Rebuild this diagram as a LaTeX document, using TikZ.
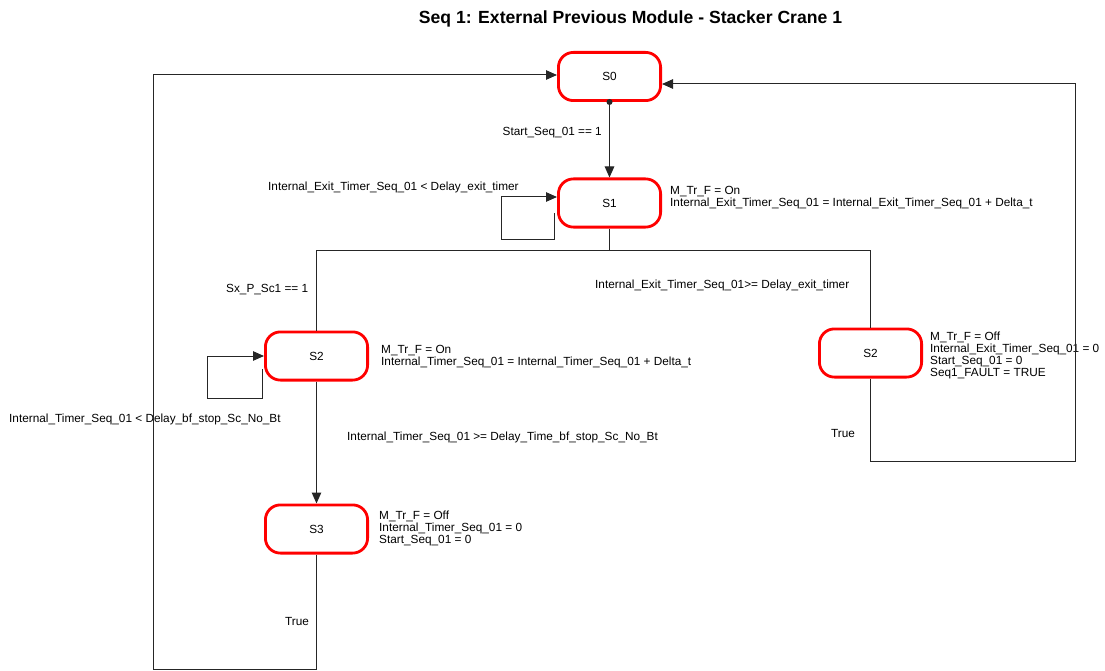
\documentclass[tikz,border=0pt]{standalone}
\usepackage{fontspec}
\setmainfont{Liberation Sans}
\usetikzlibrary{arrows.meta,calc}
\begin{document}
\begin{tikzpicture}[x=1pt,y=-1pt,
  state/.style={draw=red, line width=2.8pt, rounded corners=15pt, minimum width=102.2pt, minimum height=48.2pt, fill=white, font=\fontsize{11.8}{12}\selectfont, inner sep=0pt},
  lbl/.style={font=\fontsize{11.8}{12}\selectfont, inner sep=0pt, anchor=base west},
  act/.style={font=\fontsize{11.8}{12}\selectfont, inner sep=0pt, align=left, anchor=north west},
  conn/.style={draw=black!85, line width=1pt},
  arr/.style={conn, -{Triangle[length=11pt,width=9.5pt]}}]
\useasboundingbox (0,0) rectangle (1105,671);

\node[font=\fontsize{17.6}{20}\selectfont\bfseries, inner sep=0pt, anchor=base] (title) at (630.5,23.2) {Seq 1: External Previous Module - Stacker Crane 1};

\node[state] (s0) at (609.5,76.5) {S0};
\node[state] (s1) at (609.5,203) {S1};
\node[state] (s2a) at (316.5,356) {S2};
\node[state] (s2b) at (870.5,353) {S2};
\node[state] (s3) at (316.5,529) {S3};

% actions
\node[act] (a1) at (670,185.8) {M\_Tr\_F = On\\Internal\_Exit\_Timer\_Seq\_01 = Internal\_Exit\_Timer\_Seq\_01 + Delta\_t};
\node[act] (a2a) at (381,344.8) {M\_Tr\_F = On\\Internal\_Timer\_Seq\_01 = Internal\_Timer\_Seq\_01 + Delta\_t};
\node[act] (a2b) at (930,331.8) {M\_Tr\_F = Off\\Internal\_Exit\_Timer\_Seq\_01 = 0\\Start\_Seq\_01 = 0\\Seq1\_FAULT = TRUE};
\node[act] (a3) at (379,510.8) {M\_Tr\_F = Off\\Internal\_Timer\_Seq\_01 = 0\\Start\_Seq\_01 = 0};

% S0 -> S1
\fill[black!85] (s0.south) circle (3pt);
\draw[arr] (s0.south) -- (s1.north);
\node[lbl, anchor=base east] (l01) at (602,136) {Start\_Seq\_01 == 1};

% S1 self loop
\draw[arr] ($(s1.west)+(-3,10)$) -- ++(0,26) -- ++(-53,0) -- ++(0,-42) -- ($(s1.west)+(0,-6)$);
\node[lbl] (l11) at (268,190) {Internal\_Exit\_Timer\_Seq\_01 < Delay\_exit\_timer};

% S1 split
\draw[conn] (s1.south) -- ++(0,22.3) coordinate (split);
\draw[conn] (s2a.north) |- (split) -| (s2b.north);
\node[lbl] (l12a) at (226,292) {Sx\_P\_Sc1 == 1};
\node[lbl] (l12b) at (595,288) {Internal\_Exit\_Timer\_Seq\_01>= Delay\_exit\_timer};

% S2a self loop
\draw[arr] ($(s2a.west)+(-2,13)$) -- ++(0,29) -- ++(-55,0) -- ++(0,-42) -- (s2a.west);
\node[lbl] (l22) at (9,422) {Internal\_Timer\_Seq\_01 < Delay\_bf\_stop\_Sc\_No\_Bt};

% S2a -> S3
\draw[arr] (s2a.south) -- (s3.north);
\node[lbl] (l23) at (347,440) {Internal\_Timer\_Seq\_01 >= Delay\_Time\_bf\_stop\_Sc\_No\_Bt};

% S3 -> S0
\coordinate (c3a) at (316.5,669);
\coordinate (c3b) at (153,669);
\coordinate (c3c) at (153,75);
\draw[arr] (s3.south) -- (c3a) -- (c3b) -- (c3c) -- ($(s0.west)+(0,-1.5)$);
\node[lbl] (lt1) at (285,625) {True};

% S2b -> S0
\coordinate (c2a) at (870.5,461);
\coordinate (c2b) at (1075,461);
\coordinate (c2c) at (1075,84);
\draw[arr] (s2b.south) -- (c2a) -- (c2b) -- (c2c) -- ($(s0.east)+(0,7.5)$);
\node[lbl] (lt2) at (831,437) {True};
\end{tikzpicture}
\end{document}
